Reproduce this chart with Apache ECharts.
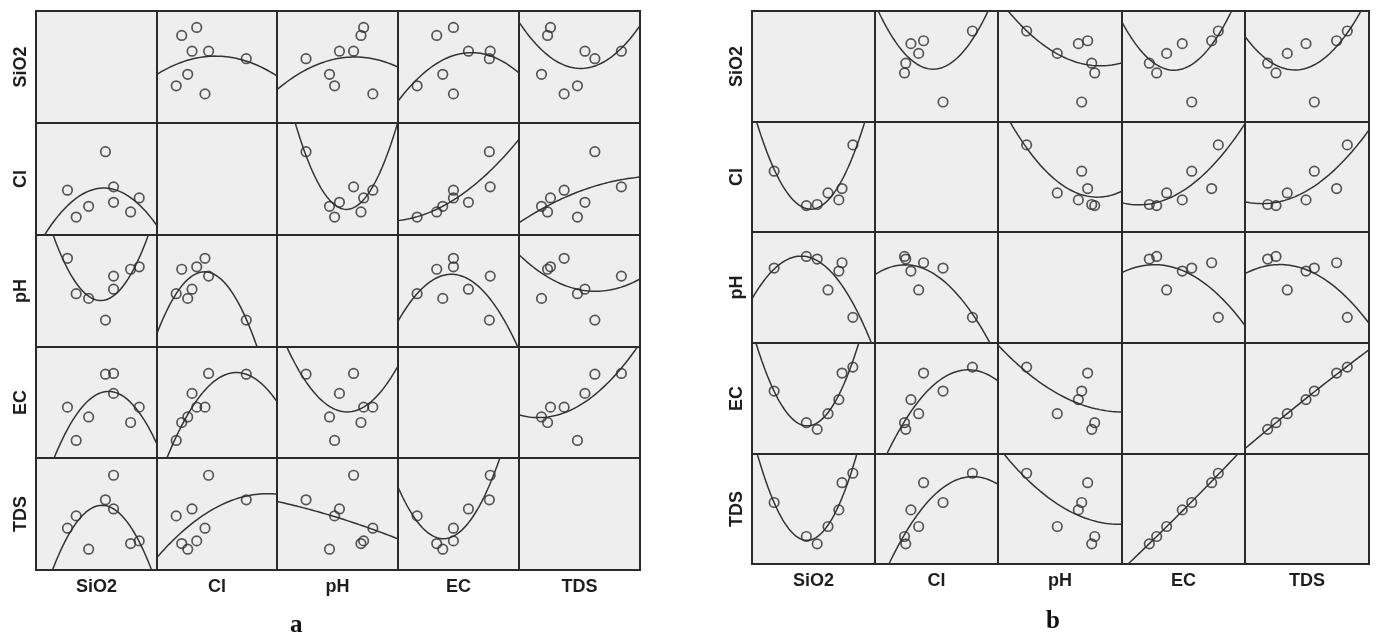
<!DOCTYPE html>
<html>
<head>
<meta charset="utf-8">
<title>Scatter matrix a / b</title>
<script src="https://cdn.jsdelivr.net/npm/echarts@6/dist/echarts.min.js"></script>
<style>
  html, body { margin: 0; padding: 0; background: #fff; }
  #chart { width: 1381px; height: 635px; }
</style>
</head>
<body>
<div id="chart"></div>
<script>
// variables, same order for rows and columns
const varNames = ['SiO2', 'Cl', 'pH', 'EC', 'TDS']

// panel a: 8 samples, values in % of each axis range
const sio2A = [26, 33.2, 43.5, 57.4, 64.1, 64.1, 78.2, 85.3]
const clA   = [40, 16, 25.6, 74.4, 29.2, 43, 20.6, 33.1]
const phA   = [79.2, 47.6, 43.4, 24, 51.6, 63.3, 69.4, 71.6]
const ecA   = [45.8, 15.8, 37, 75.5, 58.2, 76.2, 32, 45.8]
const tdsA  = [37.3, 48.3, 18.6, 62.7, 54.5, 84.6, 23.6, 26]

// panel b: 7 samples
const sio2B = [18, 44.2, 53, 61.8, 70.6, 73.2, 82]
const clB   = [55.3, 24, 25, 35.5, 29.2, 39.5, 79.2]
const phB   = [67.5, 78, 75.6, 47.8, 64.8, 72.3, 23.1]
const ecB   = [56.7, 28.2, 22.2, 36.3, 49, 72.9, 78.3]
const tdsB  = [55.9, 25, 18.3, 34.1, 49.2, 73.9, 82.5]

const panelLabels = ['a', 'b']

// cell edges in px (layout only)
const layoutA = { cols: [36, 157, 277, 398, 519, 640], rows: [11, 123, 235, 347, 458, 570], lx: 285, ly: 608 }
const layoutB = { cols: [752, 875, 998, 1122, 1245, 1369], rows: [11, 122, 232, 343, 454, 564], lx: 1041, ly: 604 }

const INK = '#2a2a2a'
const labelStyle = { color: '#1e1e1e', fontSize: 18, fontWeight: 'bold', fontFamily: 'Liberation Sans, Arial, sans-serif' }

// least squares quadratic y = c0 + c1 x + c2 x^2
function quadFit(xs, ys) {
  let s = [0, 0, 0, 0, 0], t = [0, 0, 0]
  xs.forEach((x, k) => {
    let p = 1
    for (let e = 0; e < 5; e++) { s[e] += p; if (e < 3) t[e] += p * ys[k]; p *= x }
  })
  const m = [[s[0], s[1], s[2]], [s[1], s[2], s[3]], [s[2], s[3], s[4]]]
  const det = a => a[0][0] * (a[1][1] * a[2][2] - a[1][2] * a[2][1])
    - a[0][1] * (a[1][0] * a[2][2] - a[1][2] * a[2][0])
    + a[0][2] * (a[1][0] * a[2][1] - a[1][1] * a[2][0])
  const d = det(m)
  return [0, 1, 2].map(c => {
    const mc = m.map((row, r) => row.map((v, q) => (q === c ? t[r] : v)))
    return det(mc) / d
  })
}

const grids = [], xAxes = [], yAxes = [], series = []

function buildPanel(vars, lay) {
  for (let i = 0; i < 5; i++) {
    for (let j = 0; j < 5; j++) {
      const g = grids.length
      grids.push({
        left: lay.cols[j], top: lay.rows[i],
        width: lay.cols[j + 1] - lay.cols[j], height: lay.rows[i + 1] - lay.rows[i],
        show: true, backgroundColor: '#eeeeee', borderColor: INK, borderWidth: 2,
      })
      const hidden = { axisLine: { show: false }, axisTick: { show: false }, axisLabel: { show: false }, splitLine: { show: false } }
      xAxes.push({
        gridIndex: g, type: 'value', min: 0, max: 100, ...hidden,
        name: i === 4 ? varNames[j] : '', nameLocation: 'middle', nameGap: 8, nameTextStyle: labelStyle,
      })
      yAxes.push({
        gridIndex: g, type: 'value', min: 0, max: 100, ...hidden,
        name: j === 0 ? varNames[i] : '', nameLocation: 'middle', nameGap: 6, nameRotate: 90, nameTextStyle: labelStyle,
      })
      if (i === j) continue

      const xs = vars[j], ys = vars[i]
      const c = quadFit(xs, ys)
      const fit = []
      for (let s = 0; s <= 100; s++) fit.push([s, c[0] + c[1] * s + c[2] * s * s])

      series.push({
        type: 'line', xAxisIndex: g, yAxisIndex: g, data: fit,
        showSymbol: false, symbol: 'none', clip: true, silent: true,
        lineStyle: { color: '#333', width: 1.5 }, z: 2,
      })
      series.push({
        type: 'scatter', xAxisIndex: g, yAxisIndex: g,
        data: xs.map((x, k) => [x, ys[k]]),
        symbol: 'circle', symbolSize: 9.5, silent: true,
        itemStyle: { color: 'rgba(0,0,0,0)', borderColor: '#2e2e2e', borderWidth: 1.7 }, z: 3,
      })
    }
  }
}

buildPanel([sio2A, clA, phA, ecA, tdsA], layoutA)
buildPanel([sio2B, clB, phB, ecB, tdsB], layoutB)

const chart = echarts.init(document.getElementById('chart'), null, { renderer: 'canvas' })
chart.setOption({
  backgroundColor: '#ffffff',
  animation: false,
  grid: grids,
  xAxis: xAxes,
  yAxis: yAxes,
  series,
  title: [layoutA, layoutB].map((lay, p) => ({
    text: panelLabels[p], left: lay.lx, top: lay.ly,
    textStyle: { color: '#111', fontSize: 25, fontWeight: 'bold', fontFamily: 'Liberation Serif, Times New Roman, serif' },
  })),
})
</script>
</body>
</html>
